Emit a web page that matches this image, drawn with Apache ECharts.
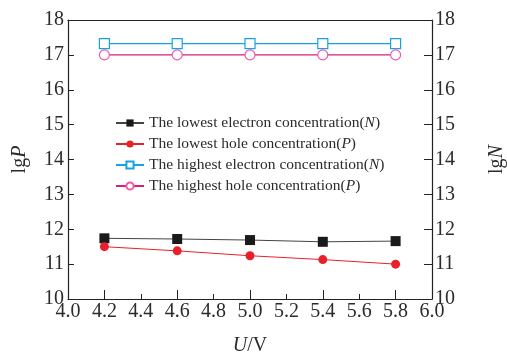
<!DOCTYPE html>
<html><head><meta charset="utf-8">
<script src="https://cdn.jsdelivr.net/npm/echarts@6/dist/echarts.min.js"></script>
<style>html,body{margin:0;padding:0;background:#fff}#c{width:507px;height:354px}</style>
</head><body><div id="c"></div>
<script>
const voltages = [4.2, 4.6, 5.0, 5.4, 5.8];
const lowestElectronN = [11.74, 11.72, 11.69, 11.64, 11.66];
const lowestHoleP = [11.50, 11.38, 11.24, 11.13, 11.00];
const highestElectronN = [17.32, 17.32, 17.32, 17.32, 17.32];
const highestHoleP = [17.0, 17.0, 17.0, 17.0, 17.0];
const xLabelValues = [4.0, 4.2, 4.4, 4.6, 4.8, 5.0, 5.2, 5.4, 5.6, 5.8, 6.0];
const xMajorTicks = [4.2, 4.6, 5.0, 5.4, 5.8];
const xMinorTicks = [4.4, 4.8, 5.2, 5.6];
const seriesNames = [
  'The lowest electron concentration({i|N})',
  'The lowest hole concentration({i|P})',
  'The highest electron concentration({i|N})',
  'The highest hole concentration({i|P})'
];

const F = 'Liberation Serif, Times New Roman, serif';
const TC = '#2b2b2b';
const pair = a => voltages.map((v, i) => [v, a[i]]);
const chart = echarts.init(document.getElementById('c'));
const axisLine = {show: true, lineStyle: {color: '#222', width: 1.2}};
const titleStyle = {fontFamily: F, fontSize: 20, color: TC,
  rich: {i: {fontFamily: F, fontSize: 20, fontStyle: 'italic', color: TC}}};
chart.setOption({
  animation: false,
  textStyle: {fontFamily: F},
  grid: {left: 68, right: 75, top: 20, bottom: 55, outerBoundsMode: 'none', containLabel: false},
  legend: {
    left: 115, top: 115, padding: 0, orient: 'vertical', itemGap: 5,
    itemWidth: 28, itemHeight: 9,
    textStyle: {fontFamily: F, fontSize: 15.5, lineHeight: 16, color: TC,
      rich: {i: {fontFamily: F, fontSize: 15.5, lineHeight: 16, fontStyle: 'italic', color: TC}}},
    data: seriesNames
  },
  xAxis: [{
    type: 'value', min: 4.0, max: 6.0, interval: 0.2,
    axisLine: axisLine, splitLine: {show: false},
    axisTick: {show: true, inside: true, length: 9, customValues: xMajorTicks, lineStyle: {color: '#222'}},
    axisLabel: {customValues: xLabelValues, formatter: v => v.toFixed(1), fontFamily: F, fontSize: 20, color: TC, margin: 3},
    name: '{i|U}/V', nameLocation: 'middle', nameGap: 37,
    nameTextStyle: titleStyle
  }, {
    type: 'value', min: 4.0, max: 6.0, position: 'bottom',
    axisLine: {show: false}, splitLine: {show: false},
    axisTick: {show: true, inside: true, length: 5, customValues: xMinorTicks, lineStyle: {color: '#222'}},
    axisLabel: {show: false}
  }, {
    type: 'value', min: 4.0, max: 6.0, position: 'top',
    axisLine: axisLine, axisTick: {show: false}, axisLabel: {show: false}, splitLine: {show: false}
  }],
  yAxis: [{
    type: 'value', min: 10, max: 18, interval: 1, position: 'left',
    axisLine: axisLine, splitLine: {show: false},
    axisTick: {show: true, inside: true, length: 6, lineStyle: {color: '#222'}},
    axisLabel: {fontFamily: F, fontSize: 20, color: TC, margin: 4},
    name: 'lg{i|P}', nameLocation: 'middle', nameRotate: 90, nameGap: 38,
    nameTextStyle: titleStyle
  }, {
    type: 'value', min: 10, max: 18, interval: 1, position: 'right',
    axisLine: axisLine, splitLine: {show: false},
    axisTick: {show: true, inside: true, length: 8, lineStyle: {color: '#222'}},
    axisLabel: {fontFamily: F, fontSize: 20, color: TC, margin: 3},
    name: 'lg{i|N}', nameLocation: 'middle', nameRotate: 90, nameGap: 55,
    nameTextStyle: titleStyle
  }],
  series: [{
    name: seriesNames[0], type: 'line', data: pair(lowestElectronN),
    symbol: 'rect', symbolSize: 10,
    itemStyle: {color: '#1a1a1a'}, lineStyle: {color: '#444', width: 1}
  }, {
    name: seriesNames[1], type: 'line', data: pair(lowestHoleP),
    symbol: 'circle', symbolSize: 9,
    itemStyle: {color: '#e8202a'}, lineStyle: {color: '#e8202a', width: 1}
  }, {
    name: seriesNames[2], type: 'line', data: pair(highestElectronN),
    symbol: 'rect', symbolSize: 10,
    itemStyle: {color: '#fff', borderColor: '#1ba1e2', borderWidth: 1.2}, lineStyle: {color: '#1ba1e2', width: 1.2}
  }, {
    name: seriesNames[3], type: 'line', data: pair(highestHoleP),
    symbol: 'circle', symbolSize: 10,
    itemStyle: {color: '#fff', borderColor: '#ee5aa8', borderWidth: 1.2}, lineStyle: {color: '#d6207a', width: 1.2}
  }]
});
</script></body></html>
